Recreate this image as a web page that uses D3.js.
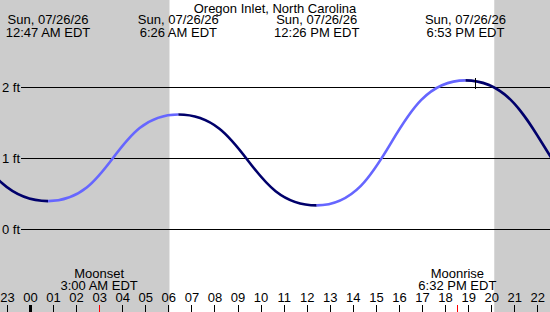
<!DOCTYPE html>
<html>
<head>
<meta charset="utf-8">
<script src="https://cdn.jsdelivr.net/npm/d3@7"></script>
<style>
html,body{margin:0;padding:0;background:#fff;}
svg{display:block;font-family:"Liberation Sans",Arial,sans-serif;font-size:13px;}
</style>
</head>
<body>
<script>
// ---- data ----
const title = "Oregon Inlet, North Carolina";
const dayLabel = "Sun, 07/26/26";
// tide extrema (first and last are just outside the visible window)
const tideTimes = ["2026-07-25T18:00", "2026-07-26T00:47", "2026-07-26T06:26", "2026-07-26T12:26", "2026-07-26T18:53", "2026-07-27T01:30"];
const tideHeights = [2.05, 0.40, 1.62, 0.34, 2.10, 0.35];
const tideLabels = ["", "12:47 AM EDT", "6:26 AM EDT", "12:26 PM EDT", "6:53 PM EDT", ""];
const yTicks = [0, 1, 2];
const yTickLabels = ["0 ft", "1 ft", "2 ft"];
const hourTicks = ["23","00","01","02","03","04","05","06","07","08","09","10","11","12","13","14","15","16","17","18","19","20","21","22"];
const sunrise = "2026-07-26T06:03";
const sunset = "2026-07-26T20:08";
const moonEvents = ["Moonset", "Moonrise"];
const moonTimes = ["2026-07-26T03:00", "2026-07-26T18:32"];
const moonLabels = ["3:00 AM EDT", "6:32 PM EDT"];
const nowTime = "2026-07-26T19:19";
const windowStart = "2026-07-25T22:42";
const windowEnd = "2026-07-26T22:33";

// ---- chart ----
const W = 550, H = 312;
const parse = d3.timeParse("%Y-%m-%dT%H:%M");
const x = d3.scaleTime().domain([parse(windowStart), parse(windowEnd)]).range([0, W]);
const y = d3.scaleLinear().domain([0, 2]).range([229.5, 87.5]);

const svg = d3.select("body").append("svg").attr("width", W).attr("height", H);

// night shading
svg.append("rect").attr("x", 0).attr("y", 0).attr("width", W).attr("height", H).attr("fill", "#fff");
svg.append("rect").attr("x", 0).attr("y", 0)
  .attr("width", x(parse(sunrise))).attr("height", H).attr("fill", "#cccccc");
svg.append("rect").attr("x", x(parse(sunset))).attr("y", 0)
  .attr("width", W - x(parse(sunset))).attr("height", H).attr("fill", "#cccccc");

// gridlines + y labels
yTicks.forEach((v, i) => {
  svg.append("line").attr("x1", 21).attr("x2", W)
    .attr("y1", y(v)).attr("y2", y(v)).attr("stroke", "#000").attr("stroke-width", 1);
  svg.append("text").attr("x", 2).attr("y", y(v) + 4.5).text(yTickLabels[i]);
});

// tide curve, coloured by rising / falling
const pts = tideTimes.map((t, i) => [x(parse(t)), y(tideHeights[i])]);
const seg = d3.line().curve(d3.curveBumpX);
const clip = svg.append("clipPath").attr("id", "plot");
clip.append("rect").attr("x", 0).attr("y", 0).attr("width", W).attr("height", H);
const g = svg.append("g").attr("clip-path", "url(#plot)");
for (let i = 0; i < pts.length - 1; i++) {
  const rising = tideHeights[i + 1] > tideHeights[i];
  g.append("path").attr("d", seg([pts[i], pts[i + 1]]))
    .attr("fill", "none")
    .attr("stroke", rising ? "#6666ff" : "#00006b")
    .attr("stroke-width", 2.6)
    .attr("stroke-linecap", "butt");
}

// "now" marker
svg.append("line").attr("x1", Math.round(x(parse(nowTime))) + 0.5).attr("x2", Math.round(x(parse(nowTime))) + 0.5)
  .attr("y1", 78).attr("y2", 89).attr("stroke", "#000").attr("stroke-width", 1);

// title
svg.append("text").attr("x", W / 2).attr("y", 13).attr("text-anchor", "middle").text(title);

// extrema labels
tideTimes.forEach((t, i) => {
  if (!tideLabels[i]) return;
  const cx = x(parse(t));
  svg.append("text").attr("x", cx).attr("y", 24).attr("text-anchor", "middle").text(dayLabel);
  svg.append("text").attr("x", cx).attr("y", 37).attr("text-anchor", "middle").text(tideLabels[i]);
});

// hour axis
const hourDates = hourTicks.map((h, i) => d3.timeHour.offset(parse("2026-07-25T23:00"), i));
const xAxis = d3.axisBottom(x).tickValues(hourDates).tickSize(0).tickFormat((d, i) => hourTicks[i]);
const ax = svg.append("g").attr("transform", "translate(0,289)").call(xAxis);
ax.select(".domain").remove();
ax.selectAll("text").attr("font-family", "Liberation Sans, Arial, sans-serif").attr("font-size", 13).attr("fill", "#000").attr("dy", 0).attr("y", 13);
hourDates.forEach((d, i) => {
  const px = Math.round(x(d));
  const mid = hourTicks[i] === "00";
  svg.append("rect").attr("x", mid ? px - 1 : px).attr("y", 305)
    .attr("width", mid ? 3 : 1).attr("height", 7).attr("fill", "#000");
});

// moon events
moonTimes.forEach((t, i) => {
  const px = x(parse(t));
  svg.append("text").attr("x", px).attr("y", 278).attr("text-anchor", "middle").text(moonEvents[i]);
  svg.append("text").attr("x", px).attr("y", 290).attr("text-anchor", "middle").text(moonLabels[i]);
  svg.append("rect").attr("x", Math.round(px)).attr("y", 305).attr("width", 1).attr("height", 7).attr("fill", "#ff0000");
});
</script>
</body>
</html>
